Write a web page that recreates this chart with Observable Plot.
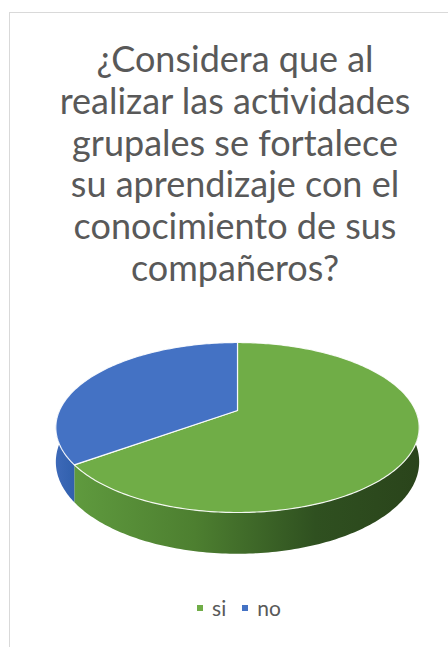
<!DOCTYPE html>
<html>
<head>
<meta charset="utf-8">
<script src="https://cdn.jsdelivr.net/npm/d3@7"></script>
<script src="https://cdn.jsdelivr.net/npm/@observablehq/plot@0.6"></script>
<style>
  html, body { margin: 0; padding: 0; background: #fff; width: 448px; height: 647px; overflow: hidden; }
  #frame { position: absolute; left: 9px; top: 12px; width: 450px; height: 700px; border: 1px solid #d9d9d9; box-sizing: content-box; }
  #title { position: absolute; left: 10px; top: 38px; width: 450px; text-align: center;
           font-family: Lato, "Open Sans", sans-serif; font-size: 36px; line-height: 41.8px; color: #595959; }
  #chart { position: absolute; left: 0; top: 0; }
  #legend { position: absolute; left: 14px; top: 595px; width: 450px; display: flex; justify-content: center; align-items: center;
            font-family: Lato, "Open Sans", sans-serif; font-size: 21px; line-height: 25px; color: #595959; }
  #legend .item { display: inline-flex; align-items: center; margin: 0 8px; }
  #legend .sw { display: inline-block; width: 6px; height: 6px; margin-right: 9px; }
  #defs { position: absolute; width: 0; height: 0; }
</style>
</head>
<body>
<svg id="defs" width="0" height="0">
  <defs>
    <linearGradient id="sideSi" x1="0" x2="1" y1="0" y2="0">
      <stop offset="0%" stop-color="#5f9a3e"/>
      <stop offset="35%" stop-color="#4d7f30"/>
      <stop offset="70%" stop-color="#2f5020"/>
      <stop offset="100%" stop-color="#2a441b"/>
    </linearGradient>
    <linearGradient id="sideNo" x1="0" x2="1" y1="0" y2="0">
      <stop offset="0%" stop-color="#3d69b8"/>
      <stop offset="100%" stop-color="#3160ad"/>
    </linearGradient>
  </defs>
</svg>
<div id="frame"></div>
<div id="title"></div>
<div id="chart"></div>
<div id="legend"></div>
<script>
// ---- data ----
const titleLines = [
  "¿Considera que al",
  "realizar las actividades",
  "grupales se fortalece",
  "su aprendizaje con el",
  "conocimiento de sus",
  "compañeros?"
];
const categories = ["si", "no"];
const values = [65, 35];
const topColors = ["#70AD47", "#4472C4"];
const sideFills = ["url(#sideSi)", "url(#sideNo)"];

// ---- 3D pie geometry (perspective ellipse) ----
const CX = 237, CY = 410, RX = 178, RY = 81.6, K = 0.2, DEPTH = 33 / 81.6;
const total = d3.sum(values);

function pt(theta, drop) {
  const x = Math.sin(theta), z = Math.cos(theta), w = 1 + K * z;
  return {u: x / w, v: (z - drop) / w};
}
function arc(a0, a1, drop) {
  const n = Math.max(2, Math.ceil((a1 - a0) / (Math.PI / 180)));
  return d3.range(n + 1).map(i => pt(a0 + (a1 - a0) * i / n, drop));
}

let acc = 0;
const slices = values.map((v, i) => {
  const a0 = acc / total * 2 * Math.PI;
  acc += v;
  const a1 = acc / total * 2 * Math.PI;
  return {i, a0, a1};
});

const marks = [];
// side walls (front half only)
for (const s of slices) {
  const b0 = Math.max(s.a0, Math.PI / 2), b1 = Math.min(s.a1, 3 * Math.PI / 2);
  if (b1 <= b0) continue;
  const poly = [...arc(b0, b1, 0), ...arc(b0, b1, DEPTH).reverse()];
  marks.push(Plot.line(poly, {x: "u", y: "v", fill: sideFills[s.i], stroke: null}));
}
// top faces
for (const s of slices) {
  const poly = [{u: 0, v: 0}, ...arc(s.a0, s.a1, 0), {u: 0, v: 0}];
  marks.push(Plot.line(poly, {x: "u", y: "v", fill: topColors[s.i], stroke: "white", strokeWidth: 1.2, strokeOpacity: 0.9}));
}

const chart = Plot.plot({
  width: 448,
  height: 647,
  margin: 0,
  x: {domain: [-1, 1], range: [CX - RX, CX + RX], axis: null},
  y: {domain: [-1, 1], range: [CY + RY, CY - RY], axis: null},
  style: {background: "transparent", overflow: "visible"},
  marks
});
document.getElementById("chart").appendChild(chart);

// title
document.getElementById("title").innerHTML = titleLines.map(l => `<div>${l}</div>`).join("");

// legend
document.getElementById("legend").innerHTML = categories.map((c, i) =>
  `<span class="item"><span class="sw" style="background:${topColors[i]}"></span>${c}</span>`).join("");
</script>
</body>
</html>
